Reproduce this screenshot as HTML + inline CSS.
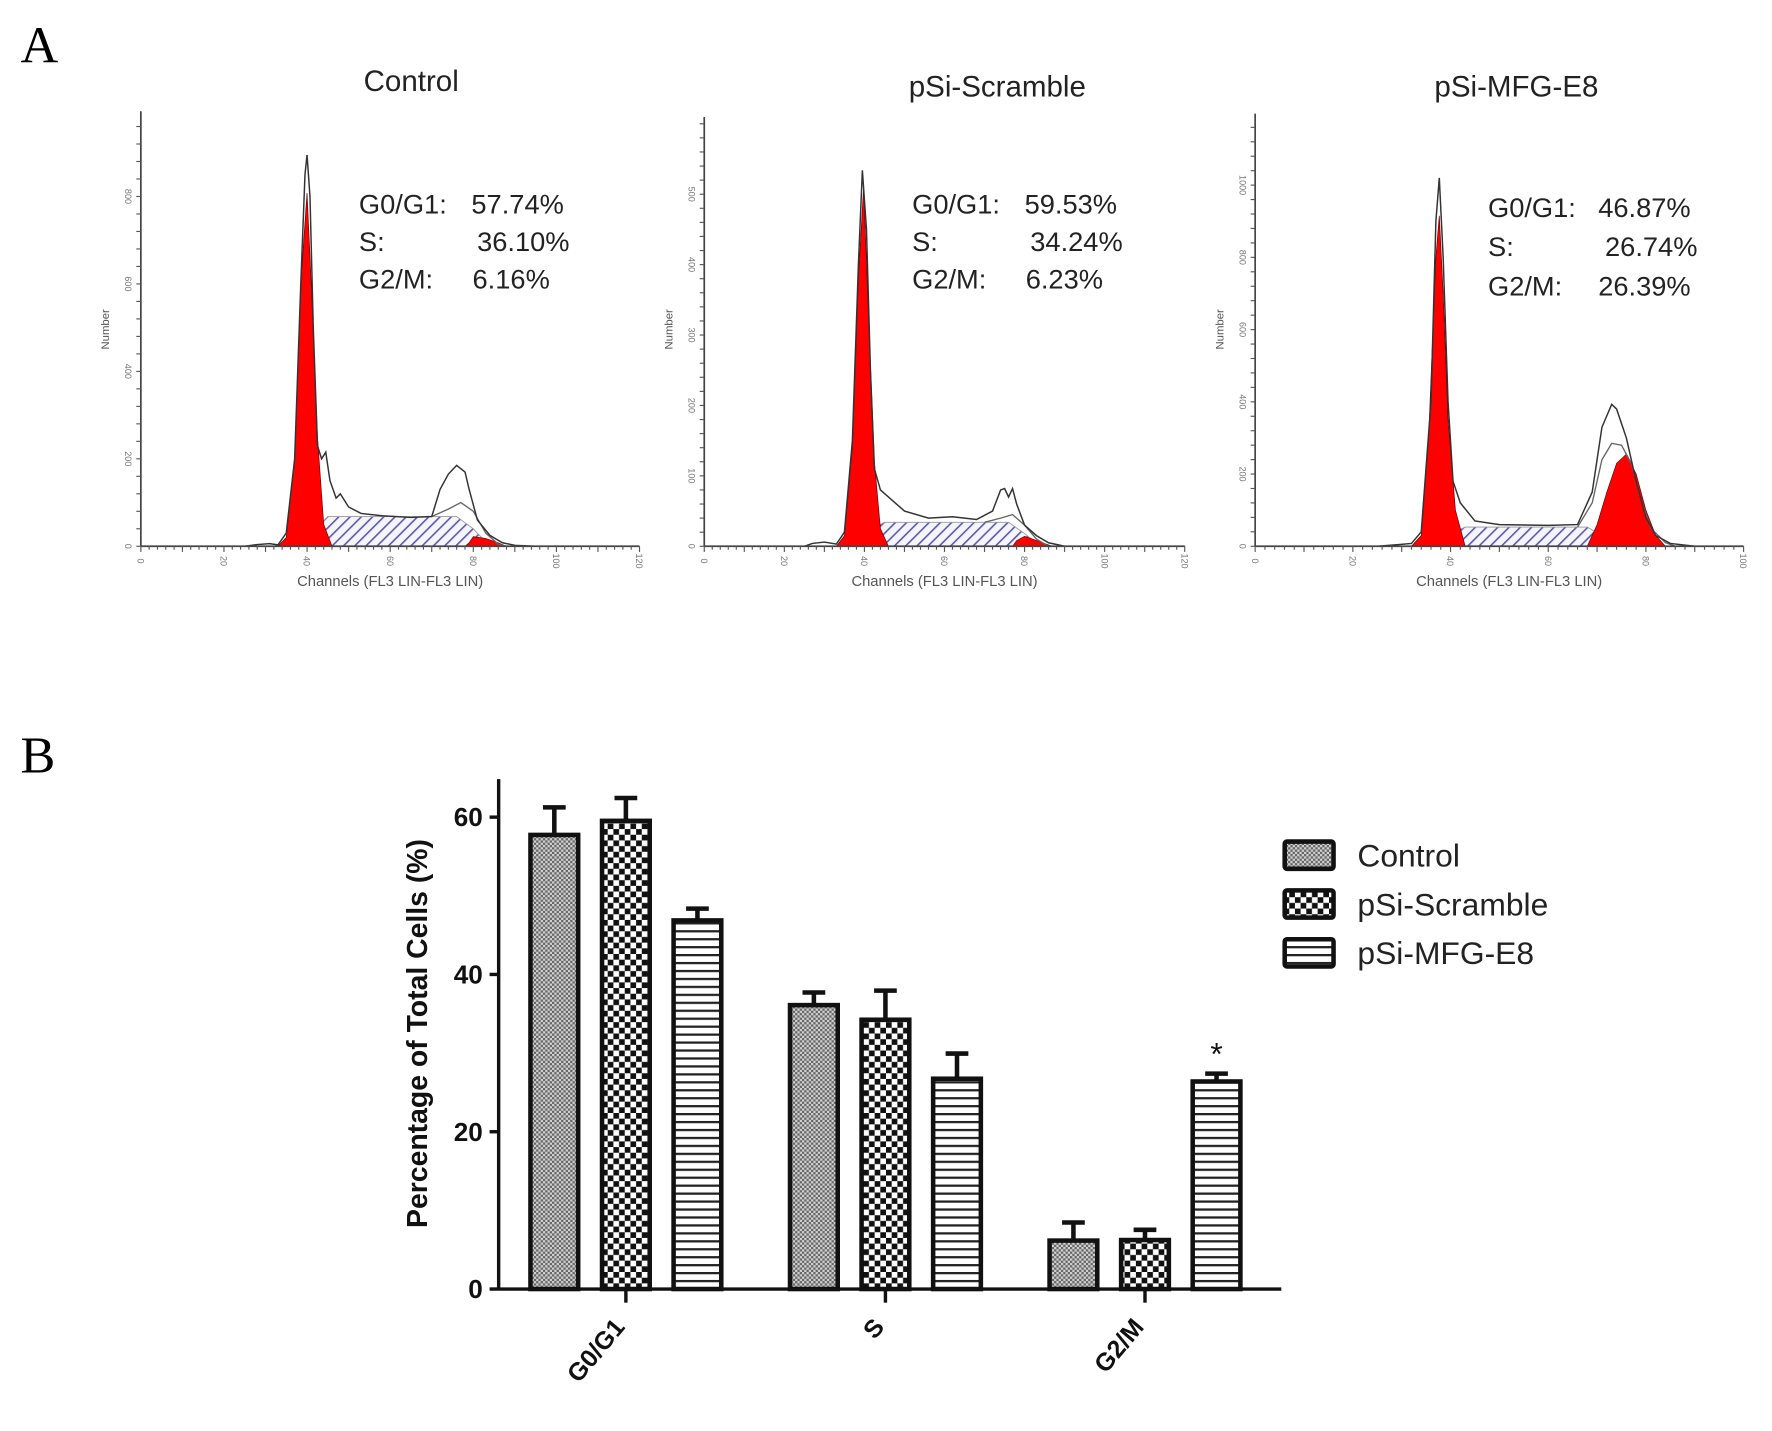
<!DOCTYPE html>
<html><head><meta charset="utf-8"><style>
html,body{margin:0;padding:0;background:#fff;}
svg{display:block;}
text{font-family:"Liberation Sans",Arial,sans-serif;}
</style></head><body>
<svg id="fig" width="1772" height="1431" viewBox="0 0 1560 1260" preserveAspectRatio="none" xmlns="http://www.w3.org/2000/svg">
<defs>
<pattern id="patCtrl" width="4" height="4" patternUnits="userSpaceOnUse"><rect width="4" height="4" fill="#d0d0d0"/><rect width="2" height="2" fill="#666"/><rect x="2" y="2" width="2" height="2" fill="#666"/></pattern>
<pattern id="patScr" width="10" height="10" patternUnits="userSpaceOnUse"><rect width="10" height="10" fill="#fff"/><rect width="5" height="5" fill="#111"/><rect x="5" y="5" width="5" height="5" fill="#111"/></pattern>
<pattern id="patMfg" width="8" height="7" patternUnits="userSpaceOnUse"><rect width="8" height="7" fill="#fff"/><rect y="0" width="8" height="2" fill="#222"/></pattern>
<pattern id="patS" width="7" height="7" patternUnits="userSpaceOnUse" patternTransform="rotate(45)"><rect width="7" height="7" fill="#f4f4fa"/><rect width="1.4" height="7" fill="#5a5aa8"/></pattern>
</defs>
<text x="18" y="55" font-size="46" style="font-family:'Liberation Serif',serif">A</text>
<text x="18" y="680" font-size="46" style="font-family:'Liberation Serif',serif">B</text>
<g id="histos"></g>
<g id="bars"></g>
</svg>
<script>
const NS="http://www.w3.org/2000/svg";
function mk(tag,attrs,parent){const e=document.createElementNS(NS,tag);for(const k in attrs)e.setAttribute(k,attrs[k]);parent.appendChild(e);return e;}

// ---------- Panel A data ----------
const histTitles=["Control","pSi-Scramble","pSi-MFG-E8"];
const histXMax=[120,120,100];
const histYTickStep=[200,100,200];
const histYTickMaxLabel=[800,500,1000];
const histStats=[["57.74%","36.10%","6.16%"],["59.53%","34.24%","6.23%"],["46.87%","26.74%","26.39%"]];
const outline1=[[0,0],[25,0],[28,4],[31,6],[33,3],[35,30],[37,200],[38.5,600],[39.5,850],[40,895],[40.7,800],[41.5,500],[42.5,230],[43.5,200],[44.5,215],[45.5,150],[47,110],[48,120],[50,90],[53,75],[58,70],[65,66],[70,68],[72,130],[74,165],[76,185],[78,170],[79,130],[81,60],[84,25],[87,8],[90,2],[95,0],[120,0]];
const outline2=[[0,0],[25,0],[27,4],[30,6],[33,3],[35,20],[37,150],[38.5,400],[39.5,534],[40.5,450],[41.5,250],[42.5,110],[44,80],[46,70],[50,50],[56,40],[62,42],[68,38],[72,50],[74,80],[75,82],[76,70],[77,82],[78,60],[80,30],[83,15],[86,5],[90,0],[120,0]];
const outline3=[[0,0],[25,0],[28,3],[32,8],[34,40],[36,400],[37,900],[37.7,1020],[38.5,800],[39.5,400],[40.5,180],[42,120],[45,70],[50,60],[60,58],[66,60],[69,150],[71,330],[73,393],[74,380],[76,300],[78,180],[80,80],[82,30],[85,8],[90,0],[100,0]];
const histOutlines=[outline1,outline2,outline3];
const fitG2_1=[[70,68],[74,85],[77,100],[80,80],[83,30],[86,5],[88,0]];
const fitG2_2=[[70,34],[74,40],[77,45],[80,30],[83,10],[86,0]];
const fitG2_3=[[66,53],[69,120],[71,240],[73,285],[75,280],[77,230],[79,130],[81,50],[84,10],[86,0]];
const histFits=[fitG2_1,fitG2_2,fitG2_3];
const redG1_1=[[33,0],[35,20],[37,200],[38.5,600],[40,808],[41,600],[42.5,250],[44,50],[46,0]];
const redG1_2=[[33,0],[35,15],[37,140],[38.5,380],[39.8,510],[41,330],[42.5,120],[44,25],[46,0]];
const redG1_3=[[32,0],[34,30],[35.5,300],[37,800],[37.7,915],[38.5,700],[39.5,350],[41,100],[43,0]];
const histRedG1=[redG1_1,redG1_2,redG1_3];
const redG2_1=[[78,0],[79,8],[80,22],[83,18],[86,8],[88,0]];
const redG2_2=[[77,0],[78,8],[80,14],[83,8],[86,2],[87,0]];
const redG2_3=[[68,0],[70,60],[72,150],[74,230],[76,255],[78,200],[80,100],[82,30],[84,0]];
const histRedG2=[redG2_1,redG2_2,redG2_3];
const sPhase1=[[36,0],[42,40],[45,68],[76,68],[80,40],[84,0]];
const sPhase2=[[36,0],[42,25],[45,34],[76,34],[80,18],[84,0]];
const sPhase3=[[33,0],[40,35],[43,53],[68,53],[71,30],[75,0]];
const histSPhase=[sPhase1,sPhase2,sPhase3];

const histLayout=[{x0:124,x1:563,y0:481,yTop:98,tx:316,ty:188,titleX:362,titleY:80},
 {x0:620,x1:1043,y0:481,yTop:103,tx:803,ty:188,titleX:878,titleY:85},
 {x0:1105,x1:1535,y0:481,yTop:100,tx:1310,ty:191,titleX:1335,titleY:85}];
const histYPxPerUnit=[77/200,62/100,63.6/200];

const hg=document.getElementById('histos');
for(let p=0;p<3;p++){
  const L=histLayout[p];
  const g=mk('g',{},hg);
  
  
  const xs=c=>L.x0+(L.x1-L.x0)*c/histXMax[p];
  const ys=v=>L.y0-v*histYPxPerUnit[p];
  const pts=a=>a.map(d=>xs(d[0]).toFixed(1)+','+ys(d[1]).toFixed(1)).join(' ');
  const s=mk('polygon',{points:pts(histSPhase[p]),fill:'url(#patS)',stroke:'#999','stroke-width':0.8},g);
  
  
  const r1=mk('polygon',{points:pts(histRedG1[p]),fill:'#ff0000',stroke:'#600','stroke-width':0.6},g);
  
  
  const r2=mk('polygon',{points:pts(histRedG2[p]),fill:'#ff0000',stroke:'#600','stroke-width':0.6},g);
  
  
  const f=mk('polyline',{points:pts(histFits[p]),fill:'none',stroke:'#666','stroke-width':1.2},g);
  
  
  const o=mk('polyline',{points:pts(histOutlines[p]),fill:'none',stroke:'#333','stroke-width':1.3},g);
  
  
  mk('line',{x1:L.x0,y1:L.y0,x2:L.x1,y2:L.y0,stroke:'#444','stroke-width':1.5},g);
  mk('line',{x1:L.x0,y1:L.y0,x2:L.x0,y2:L.yTop,stroke:'#444','stroke-width':1.5},g);
  for(let c=0;c<=histXMax[p];c+=2){const big=c%10===0;mk('line',{x1:xs(c),y1:L.y0,x2:xs(c),y2:L.y0+(big?5:3),stroke:'#555','stroke-width':1},g);}
  for(let c=0;c<=histXMax[p];c+=20){const t=mk('text',{x:xs(c),y:L.y0+16,'font-size':8,fill:'#777','text-anchor':'middle',transform:`rotate(90 ${xs(c)} ${L.y0+13})`},g);t.textContent=c;}
  const minorStep=histYTickStep[p]/5;
  for(let v=0;ys(v)>=L.yTop;v+=minorStep){mk('line',{x1:L.x0,y1:ys(v),x2:L.x0-4,y2:ys(v),stroke:'#555','stroke-width':1},g);}
  for(let v=0;v<=histYTickMaxLabel[p];v+=histYTickStep[p]){const t=mk('text',{x:L.x0-14,y:ys(v),'font-size':8,fill:'#777','text-anchor':'middle',transform:`rotate(90 ${L.x0-14} ${ys(v)})`},g);t.textContent=v;}
  const yl=mk('text',{x:L.x0-28,y:290,'font-size':10,fill:'#555','text-anchor':'middle',transform:`rotate(-90 ${L.x0-28} 290)`},g);
  yl.textContent='Number';
  
  
  const xl=mk('text',{x:xs(histXMax[p]===120?60:52),y:L.y0+35,'font-size':13,fill:'#555','text-anchor':'middle'},g);
  xl.textContent='Channels (FL3 LIN-FL3 LIN)';
  
  
  const ti=mk('text',{x:L.titleX,y:L.titleY,'font-size':26,fill:'#222','text-anchor':'middle'},g);
  ti.textContent=histTitles[p];
  
  
  const labs=['G0/G1:','S:','G2/M:'];
  const valXs=[[L.tx+99,L.tx+104,L.tx+100],[L.tx+99,L.tx+104,L.tx+100],[L.tx+97,L.tx+103,L.tx+97]][p];
  for(let i=0;i<3;i++){
    const yy=L.ty+i*33+(p===2?1.5*i:0);
    const a=mk('text',{x:L.tx,y:yy,'font-size':24,fill:'#222'},g);a.textContent=labs[i];
    
    
    const b=mk('text',{x:valXs[i],y:yy,'font-size':24,fill:'#222'},g);b.textContent=histStats[p][i];
    
    
  }
}

// ---------- Panel B data ----------
const categories=["G0/G1","S","G2/M"];
const seriesNames=["Control","pSi-Scramble","pSi-MFG-E8"];
const controlVals=[57.74,36.10,6.16];
const scrambleVals=[59.53,34.24,6.23];
const mfgVals=[46.87,26.74,26.39];
const controlErr=[3.5,1.6,2.3];
const scrambleErr=[2.9,3.7,1.3];
const mfgErr=[1.5,3.2,1.0];
const yTicks=[0,20,40,60];
const sigMarks=[null,null,"*"];

const bg=document.getElementById('bars');
const AX={x0:439,x1:1128,y0:1135,yTop:686};
const yScale=v=>AX.y0-v*(138.5/20);
const groupCenter=i=>551+i*228.5;
const barW=42, barGap=63;
const fills=['url(#patCtrl)','url(#patScr)','url(#patMfg)'];
const vals=[controlVals,scrambleVals,mfgVals];
const errs=[controlErr,scrambleErr,mfgErr];
for(let c=0;c<categories.length;c++){
  for(let s=0;s<3;s++){
    const cx=groupCenter(c)+(s-1)*barGap;
    const v=vals[s][c], e=errs[s][c];
    const top=yScale(v), etop=yScale(v+e);
    const eb=mk('line',{x1:cx,y1:top,x2:cx,y2:etop,stroke:'#111','stroke-width':4},bg);
    
    
    mk('line',{x1:cx-10,y1:etop,x2:cx+10,y2:etop,stroke:'#111','stroke-width':4},bg);
    const r=mk('rect',{x:cx-barW/2,y:top,width:barW,height:AX.y0-top,fill:fills[s],stroke:'#111','stroke-width':4},bg);
    
    
    if(s===2&&sigMarks[c]){const t=mk('text',{x:cx,y:etop-8,'font-size':28,'text-anchor':'middle',fill:'#111'},bg);t.textContent=sigMarks[c];
      
      }
  }
  const tx=groupCenter(c);
  mk('line',{x1:tx,y1:AX.y0,x2:tx,y2:AX.y0+12,stroke:'#111','stroke-width':3},bg);
  const t=mk('text',{x:tx,y:AX.y0+34,'font-size':22,'font-weight':'bold','text-anchor':'end',fill:'#111',transform:`rotate(-50 ${tx} ${AX.y0+34})`},bg);
  t.textContent=categories[c];
  
  
}
const xa=mk('line',{x1:AX.x0,y1:AX.y0,x2:AX.x1,y2:AX.y0,stroke:'#111','stroke-width':3},bg);


const ya=mk('line',{x1:AX.x0,y1:AX.y0+1,x2:AX.x0,y2:AX.yTop,stroke:'#111','stroke-width':3},bg);


for(const v of yTicks){
  mk('line',{x1:AX.x0,y1:yScale(v),x2:AX.x0-8,y2:yScale(v),stroke:'#111','stroke-width':3},bg);
  const t=mk('text',{x:AX.x0-14,y:yScale(v)+8,'font-size':23,'font-weight':'bold','text-anchor':'end',fill:'#111'},bg);
  t.textContent=v;
  
  
}
const yt=mk('text',{x:376,y:910,'font-size':25,'font-weight':'bold','text-anchor':'middle',fill:'#111',transform:'rotate(-90 376 910)'},bg);
yt.textContent='Percentage of Total Cells (%)';


for(let s=0;s<3;s++){
  const y=741+s*43;
  const r=mk('rect',{x:1131,y:y,width:43,height:24,fill:fills[s],stroke:'#111','stroke-width':4,rx:2},bg);
  
  
  const t=mk('text',{x:1195,y:y+22,'font-size':28,fill:'#222'},bg);
  t.textContent=seriesNames[s];
  
  
}
</script>
</body></html>
